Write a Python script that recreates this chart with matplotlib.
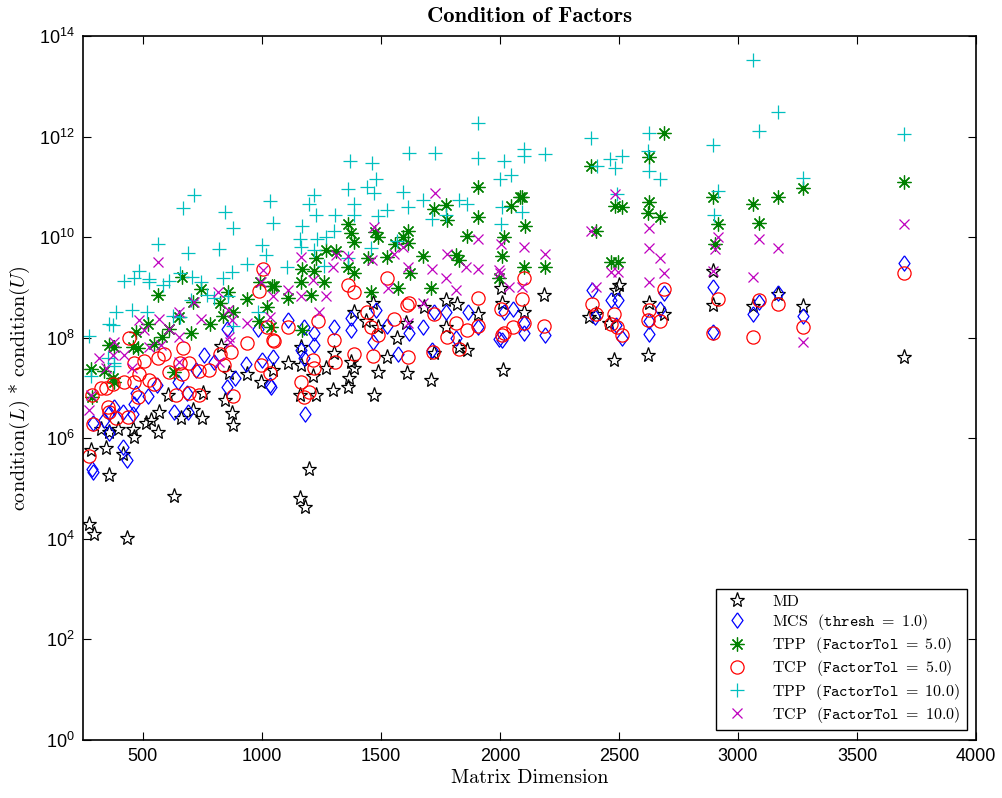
import matplotlib
matplotlib.use('agg')
import matplotlib.pyplot as plt
import numpy as np
from matplotlib.ticker import FixedLocator, NullLocator, LogFormatterSciNotation

# MD
md_x = [828, 861, 937, 996, 1046, 752, 710, 660, 748, 874, 878, 844, 567, 605, 534, 513, 563,
        458, 466, 395, 357, 324, 345, 282, 416, 357, 277, 294, 433, 630, 1159, 1180, 1197,
        1386, 1466, 1437, 1487, 1605, 1567, 1680, 1773, 1819, 1773, 1907, 2004, 2008, 2100,
        2184, 1861, 1827, 1722, 1710, 1609, 1487, 1525, 1374, 1386, 1365, 1361, 1298, 1470,
        1164, 1164, 1214, 1227, 1159, 1109, 1269, 1302, 2403, 2373, 2478, 2487, 2012, 2499,
        2457, 2625, 2688, 2621, 2894, 2894, 3062, 3167, 3272, 3696]
md_y = [6.9e7, 2e7, 1.9e7, 1.3e7, 2.3e7, 8.1e6, 3.7e6, 2.5e6, 2.5e6, 3.2e6, 1.8e6, 5.9e6, 3.4e6,
        7.4e6, 2.3e6, 2e6, 1.35e6, 1.5e6, 1.07e6, 1.5e6, 1.35e6, 1.5e6, 6.5e5, 5.9e5, 4.9e5,
        1.9e5, 2e4, 1.26e4, 1.05e4, 7.1e4, 6.5e4, 4.3e4, 2.5e5,
        3.3e8, 4.9e8, 2.1e8, 1.65e8, 2e8, 1e8, 4e8, 5.7e8, 4.6e8, 1.65e8, 2.9e8, 9.8e8, 4.9e8, 3.3e8,
        7.1e8, 5.8e7, 6.6e7, 5e7, 1.45e7, 2e7, 2.1e7, 4.2e7, 3.3e7, 2.5e7, 1.6e7, 1.07e7, 9.3e6, 7.4e6,
        6.6e7, 2.9e7, 1.75e7, 7.4e6, 7.1e6, 3.2e7, 2.5e7, 5e7, 2.9e8, 2.6e8, 3.6e7, 8.9e8, 2.3e7, 1.1e9,
        2e8, 4.9e8, 2.9e8, 4.6e7, 2.1e9, 4.4e8, 4.2e8, 7.4e8, 4.2e8, 4.2e7]

# MCS (thresh = 1.0)
mcs_x = [853, 983, 756, 798, 723, 933, 1000, 1046, 1033, 886, 853, 647, 685, 559, 521, 471, 462,
         630, 689, 458, 416, 378, 336, 357, 290, 416, 433, 286, 290, 361,
         1109, 1164, 1176, 1218, 1176, 1180, 1302, 1374, 1374, 1466, 1479, 1525, 1571, 1617, 1676,
         1722, 1773, 1815, 1865, 1907, 1714, 1996, 2016, 2100, 2188, 2386, 2466, 2495, 1218, 1038,
         2399, 2054, 2100, 2008, 2487, 2512, 2688, 2671, 2625, 2625, 2894, 2894, 3062, 3087, 3167,
         3272, 3696]
mcs_y = [1.5e8, 1.5e8, 4.6e7, 3.3e7, 2.3e7, 3e7, 3.6e7, 4.2e7, 1.17e7, 1.6e7, 1.07e7, 1.3e7, 8.1e6,
         1.17e7, 6.8e6, 7.8e6, 4.7e6, 3.4e6, 3.4e6, 3e6, 3.4e6, 4.1e6, 2.3e6, 1.3e6, 2e6, 6.8e5, 3.7e5,
         2.4e5, 2.1e5, 3.2e6,
         2.3e8, 5.8e7, 1.65e8, 1.25e8, 4e7, 3e6, 1.65e8, 2.5e8, 1.4e8, 8.3e7, 3.6e8, 1.7e8, 4.8e7, 1.25e8,
         1.65e8, 3.3e8, 3.2e8, 1e8, 3.3e8, 1.65e8, 5.8e7, 9.5e7, 3.3e8, 2e8, 1.15e8, 8.9e8, 5.7e8, 5.7e8,
         7.2e7, 1.07e7, 2.6e8, 3.8e8, 1.25e8, 9.1e7, 1.8e8, 1e8, 7.8e8, 3.8e8, 2.1e8, 1.2e8, 1e9, 1.3e8,
         2.9e8, 5.2e8, 7.8e8, 2.7e8, 3.1e9]

# TPP (FactorTol = 5.0)
tpp5_x = [664, 563, 744, 857, 823, 937, 1042, 991, 1021, 987, 1038, 878, 836, 710, 651, 781, 702,
          613, 580, 546, 521, 471, 458, 479, 378, 361, 282, 340, 374, 378, 286, 630,
          1907, 1907, 1722, 1773, 1777, 2046, 2083, 2016, 2008, 1861, 1815, 1827, 1676, 1613, 1592,
          1613, 1558, 1525, 1475, 1487, 1445, 1361, 1374, 1386, 1361, 1311, 1269, 1227, 1168,
          2688, 2625, 2382, 2092, 2482, 2512, 2625, 2621, 2671, 2894, 2915, 2902, 2104, 2403, 2466,
          2495, 2188, 2100, 3062, 3087, 3167, 3272, 3696,
          1164, 1710, 1571, 1621, 1260, 1218, 1206, 1386, 1050, 1109, 1168, 1996, 1458]
tpp5_y = [1.6e9, 7.1e8, 9.3e8, 8.1e8, 4.9e8, 6e8, 1.07e9, 1.3e9, 4.1e8, 2.1e8, 1.65e8, 3.3e8, 2.7e8,
          5.2e8, 2.6e8, 1.9e8, 1.25e8, 1.5e8, 1.05e8, 7.6e7, 1.9e8, 1.3e8, 6.6e7, 6.3e7, 6.6e7, 7.2e7,
          2.4e7, 2.2e7, 1.6e7, 1.3e7, 6.5e6, 2.1e7,
          1e11, 2.5e10, 3.6e10, 4.4e10, 2.2e10, 4.2e10, 6.3e10, 1e10, 4.3e9, 1.07e10, 4.5e9, 3.5e9,
          4.3e9, 1.3e10, 1e10, 7.6e9, 7.4e9, 4.1e9, 1.25e10, 1e10, 3.9e9, 1.8e10, 1.2e10, 8.1e9, 2.6e9,
          5.4e9, 5.6e9, 3.9e9, 2.3e9,
          1.2e12, 4e11, 2.6e11, 6.3e10, 4.2e10, 4e10, 5e10, 3e10, 2.5e10, 6.3e10, 1.8e10, 7.4e9, 1.7e10,
          1.35e10, 3.2e9, 3.2e9, 2.6e9, 2.5e9, 4.6e10, 1.9e10, 6.3e10, 9.6e10, 1.25e11,
          1.3e9, 9.8e8, 9.8e8, 1.9e9, 1.3e9, 2.1e9, 7.1e8, 1.9e9, 1.07e9, 6.3e8, 1.45e8, 1.55e9, 8.1e8]

# TCP (FactorTol = 5.0)
tcp5_x = [1004, 987, 445, 668, 563, 588, 462, 483, 420, 613, 655, 693, 664, 735, 777, 823, 870, 840,
          937, 1021, 1046, 996, 1033, 508, 529, 546, 466, 324, 345, 374, 286, 479, 639, 735, 693, 878,
          353, 361, 387, 437, 290, 277,
          1525, 1361, 1386, 1907, 2100, 2092, 1617, 1609, 1722, 1554, 1815, 1861, 1777, 1907, 2004,
          2054, 2016, 2184, 1441, 1458, 1487, 1466, 1302, 1235, 1214, 1218, 1164, 1176, 1197, 1613,
          1718, 1827, 1386, 1306, 1109, 1050, 2386, 2466, 2478,
          2100, 2008, 2403, 2491, 2512, 2688, 2625, 2621, 2671, 2894, 2915, 3062, 3087, 3167, 3272, 3696]
tcp5_y = [2.3e9, 8.5e8, 1e8, 6.3e7, 4e7, 4.8e7, 3.2e7, 1.9e7, 1.3e7, 2.1e7, 3.2e7, 3.2e7, 1.9e7,
          2.2e7, 2.3e7, 4.8e7, 5.2e7, 2.9e7, 7.9e7, 1.65e8, 9.1e7, 2.9e7, 2e7, 3.5e7, 1.45e7, 1.2e7,
          1.3e7, 1e7, 9.8e6, 1.2e7, 7.1e6, 6.5e6, 7.4e6, 7.4e6, 8.1e6, 6.8e6, 4.1e6, 3.4e6, 2.5e6,
          2.7e6, 1.95e6, 4.5e5,
          1.55e9, 1.1e9, 8.1e8, 6.3e8, 1.55e9, 6e8, 4.9e8, 4.4e8, 2.9e8, 2.4e8, 2e8, 1.45e8, 1.05e8,
          1.7e8, 3.8e8, 1.6e8, 1.25e8, 1.7e8, 3.2e8, 1.6e8, 1.15e8, 4.4e7, 9.1e7, 2.1e8, 3.6e7, 2.5e7,
          1.3e7, 6.5e6, 8.5e6, 4.2e7, 5.2e7, 6e7, 4.8e7, 3.3e7, 1.65e8, 8.7e7, 4.6e8, 1.9e8, 2.9e8,
          2e8, 1.15e8, 3e8, 1.65e8, 1.15e8, 9.3e8, 3.6e8, 2.3e8, 2.1e8, 1.25e8, 6e8, 1.05e8, 5.7e8,
          4.7e8, 1.65e8, 1.95e9]

# TPP (FactorTol = 10.0)
tpp10_x = [277, 282, 353, 378, 382, 357, 374, 387, 454, 517, 420, 466, 483, 525, 529, 563, 584, 613,
           626, 655, 655, 668, 689, 702, 706, 714, 744, 769, 798, 819, 836, 844, 857, 874, 878, 878,
           937, 983, 1000, 1017, 1033, 1046, 1105, 1159, 1164, 1168, 1197, 1218, 1218, 1227, 1231,
           1260, 1269, 1302, 1306, 1361, 1361, 1369, 1386, 1386, 1441, 1458, 1462, 1470, 1479, 1487,
           1525, 1567, 1592, 1613, 1617, 1676, 1714, 1726, 1773, 1827, 1861, 1907, 1907, 1999, 2004,
           2008, 2016, 2046, 2092, 2100, 2100, 2188, 2382, 2407, 2461, 2482, 2491, 2512, 2621, 2625,
           2625, 2671, 2894, 2898, 2915, 3062, 3087, 3167, 3272, 3696]
tpp10_y = [1.1e8, 1.7e7, 4e7, 3.2e7, 2.8e7, 1.9e8, 1.8e8, 3.2e8, 3.6e8, 3.3e8, 1.35e9, 1.55e9, 2.1e9,
           1.5e9, 1.3e9, 7.4e9, 1.1e9, 1.35e9, 2.7e8, 2.6e8, 1.9e9, 3.8e10, 4.9e9, 5.7e8, 1.6e9, 6.9e10,
           1.3e9, 7.1e8, 6.3e8, 5.9e9, 1.55e9, 3.1e10, 6.6e8, 2e9, 1.55e10, 1.7e8, 2.9e9, 3.2e8, 7.1e9,
           4.5e9, 5.3e10, 1.95e10, 2.5e9, 9.3e9, 6.5e9, 1.7e10, 4.6e10, 6.9e10, 5.6e9, 2.8e10, 9.3e9,
           2.7e9, 1e10, 1.3e10, 2.7e10, 9.1e10, 3.9e9, 3.3e11, 4.6e10, 2.7e10, 1e11, 6.2e9, 3e11, 7.6e10,
           1.45e11, 2.6e10, 3.5e10, 8.5e9, 7.9e10, 4e10, 4.8e11, 5.5e10, 2.3e10, 4.8e11, 2.8e10, 5.5e10,
           4.6e10, 1.9e12, 3.8e11, 1.45e11, 1.8e10, 4e10, 3.3e11, 1.7e11, 3.2e10, 5.6e11, 4.2e11, 4.4e11,
           9.5e11, 2.6e11, 3.6e11, 2.4e11, 7.2e10, 4.2e11, 5.2e11, 1.2e12, 2.1e11, 1.45e11, 6.9e11,
           2.7e10, 8.3e10, 3.4e13, 1.3e12, 3.1e12, 1.5e11, 1.15e12]

# TCP (FactorTol = 10.0)
tcp10_x = [563, 1004, 996, 1046, 815, 857, 874, 937, 1033, 651, 651, 714, 744, 613, 567, 576, 483,
           504, 525, 374, 378, 319, 345, 454, 420, 651, 282, 277, 865, 819, 861,
           1726, 1907, 1470, 1462, 1361, 1311, 1164, 1554, 1592, 1777, 1857, 1907, 2004, 1996, 1613,
           1714, 1298, 2482, 2382, 2625, 2625, 2671, 2688, 2625, 2915, 2902, 2894, 2100, 2188, 2466,
           2495, 2092, 2403, 3062, 3087, 3167, 3272, 3696,
           1109, 1269, 1214, 1529, 1773, 1815, 1999, 2037, 1676, 1613, 1164, 1239]
tcp10_y = [3.2e9, 2.2e9, 1.3e9, 6.8e8, 8.1e8, 3.6e8, 2.3e8, 2e8, 2.6e8, 3.3e8, 1.05e8, 5.2e8, 2.4e8,
           1.5e8, 2.4e8, 7.2e7, 2.3e8, 1.45e8, 6.6e7, 4.6e7, 8.3e7, 4e7, 2.5e7, 2.5e7, 4.6e7, 3.3e7,
           7.4e6, 3.7e6, 8.3e7, 3.3e7, 1.05e8,
           7.6e10, 9.3e9, 1.6e10, 3.5e9, 4.3e9, 4.5e9, 4.1e9, 4.7e9, 6.5e9, 4.7e9, 2.6e9, 2.3e9, 7.4e9,
           2.2e9, 2.6e9, 2.3e9, 2.6e9, 7.2e10, 1.3e10, 1.5e10, 6.2e9, 3.9e9, 1.9e9, 1.3e9, 1e10, 5.9e9,
           2.1e9, 6.5e9, 4.7e9, 2e9, 2e9, 1e9, 1e9, 1.6e9, 9.3e9, 6.2e9, 8.3e7, 1.8e10,
           8.9e8, 6.6e8, 1.4e9, 9.8e8, 1.55e9, 8.9e8, 1.9e9, 1e9, 4.9e8, 2e8, 6.6e8, 3.2e8]

labels = ['MD',
          r'MCS  $(\mathtt{thresh}\ =\ 1.0)$',
          r'TPP  $(\mathtt{FactorTol}\ =\ 5.0)$',
          r'TCP  $(\mathtt{FactorTol}\ =\ 5.0)$',
          r'TPP  $(\mathtt{FactorTol}\ =\ 10.0)$',
          r'TCP  $(\mathtt{FactorTol}\ =\ 10.0)$']

plt.rcParams['font.family'] = ['Liberation Sans', 'DejaVu Sans']
plt.rcParams['mathtext.fontset'] = 'cm'

fig = plt.figure(figsize=(10.03, 7.98), dpi=100)
ax = fig.add_axes([0.0828, 0.0727, 0.8904, 0.8822])

# tall diamond like the MATLAB marker
tall_diamond = [(0, 1), (0.72, 0), (0, -1), (-0.72, 0), (0, 1)]

series = [
    (md_x, md_y, dict(marker='*', color='black', ms=11)),
    (mcs_x, mcs_y, dict(marker=tall_diamond, color='blue', ms=11)),
    (tpp5_x, tpp5_y, dict(marker=(8, 2, 0), color='green', ms=10)),
    (tcp5_x, tcp5_y, dict(marker='o', color='red', ms=9.5)),
    (tpp10_x, tpp10_y, dict(marker='+', color='c', ms=10)),
    (tcp10_x, tcp10_y, dict(marker='x', color='m', ms=7)),
]
for (x, y, st), lab in zip(series, labels):
    c = st.pop('color')
    ax.plot(x, y, ls='none', mfc='none', mec=c, mew=0.9, label=lab, **st)

ax.set_yscale('log')
ax.set_xlim(250, 4000)
ax.set_ylim(1, 1e14)
ax.set_xticks(np.arange(500, 4001, 500))
ax.yaxis.set_major_locator(FixedLocator(10.0 ** np.arange(0, 15, 2)))
ax.yaxis.set_major_formatter(LogFormatterSciNotation())
ax.yaxis.set_minor_locator(NullLocator())
ax.tick_params(which='major', direction='in', top=True, right=True, length=6, width=0.8,
               labelsize=13, pad=6)
for s in ax.spines.values():
    s.set_linewidth(1.2)

ax.set_title('Condition of Factors', fontfamily='cmb10', fontsize=16.3, pad=10)
ax.set_xlabel('Matrix Dimension', fontfamily='cmr10', fontsize=14.3, labelpad=3)
ax.set_ylabel(r'condition$(L)$ * condition$(U)$', fontfamily='cmr10', fontsize=14.5, labelpad=5)

leg = ax.legend(loc='lower right', numpoints=1, fancybox=False, edgecolor='black',
                framealpha=1, prop={'family': 'cmr10', 'size': 11.5}, borderaxespad=0.6,
                handletextpad=1.2, labelspacing=0.2, borderpad=0.35)
leg.get_frame().set_linewidth(1.0)

fig.savefig('out.png', dpi=100)
